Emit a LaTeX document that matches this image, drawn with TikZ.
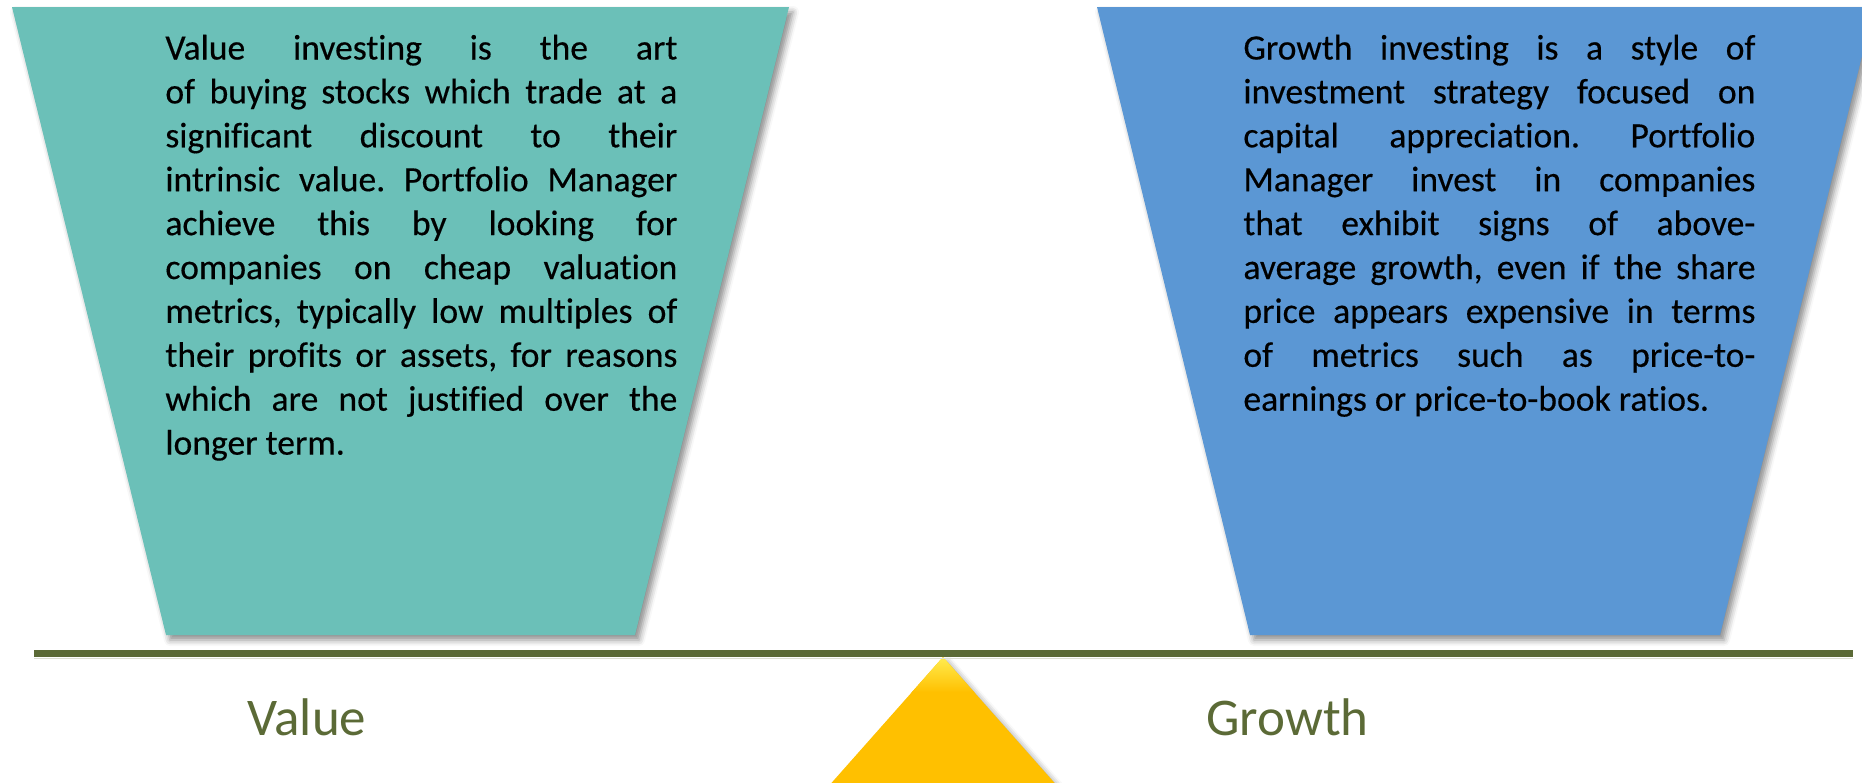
\documentclass[tikz,border=0pt]{standalone}
\usepackage{fontspec}
\setmainfont{Carlito}[Ligatures=NoCommon]
\newfontfamily\bodyfont{Carlito}[Ligatures=NoCommon,RawFeature={embolden=0.35}]
\usetikzlibrary{shadows.blur}
\definecolor{tealc}{HTML}{6BC0B8}
\definecolor{bluec}{HTML}{5B97D4}
\definecolor{olivec}{HTML}{5B6A36}
\definecolor{ytop}{HTML}{FFEC50}
\definecolor{yor}{HTML}{FFC000}
\newcommand\jl[1]{\makebox[\linewidth][s]{#1}\par}
\newcommand\lastln[1]{#1\par}
\frenchspacing
\begin{document}
\begin{tikzpicture}[x=0.5pt,y=-0.5pt,
  panel/.style={blur shadow={shadow xshift=2pt,shadow yshift=-2.5pt,shadow blur radius=3pt,shadow opacity=45}},
  body/.style={anchor=base west,inner sep=0pt,font=\bodyfont\fontsize{17.8pt}{21.95pt}\selectfont},
  lbl/.style={anchor=base west,inner sep=0pt,text=olivec,font=\fontsize{26.5pt}{32pt}\selectfont}]
\useasboundingbox (0,0) rectangle (1862,782);
\clip (0,0) rectangle (1862,782);
% panels
\fill[tealc,panel] (12,7) -- (789,7) -- (635,635) -- (166,635) -- cycle;
\fill[bluec,panel] (1097,7) -- (1874,7) -- (1720,635) -- (1250,635) -- cycle;
% fulcrum
\fill[yor,panel] (943,657) -- (1067,797) -- (819,797) -- cycle;
\begin{scope}
  \clip (943,657) -- (1067,797) -- (819,797) -- cycle;
  \shade[top color=ytop,bottom color=yor] (800,657) rectangle (1100,692);
\end{scope}
% beam
\coordinate (lL) at (34,653.5);
\coordinate (lR) at (1853,653.5);
\coordinate (sL) at (34,658.5);
\coordinate (sR) at (1853,658.5);
\draw[olivec!22,line width=0.8pt] (sL) -- (sR);
\draw[olivec,line width=3.5pt] (lL) -- (lR);
% texts
\node[body] (vt) at (165,59.5) {\begin{minipage}[t]{256pt}\parindent=0pt
\jl{Value investing is the art}
\jl{of buying stocks which trade at a}
\jl{significant discount to their}
\jl{intrinsic value. Portfolio Manager}
\jl{achieve this by looking for}
\jl{companies on cheap valuation}
\jl{metrics, typically low multiples of}
\jl{their profits or assets, for reasons}
\jl{which are not justified over the}
\lastln{longer term.}
\end{minipage}};
\node[body] (gt) at (1243,59.5) {\begin{minipage}[t]{256pt}\parindent=0pt
\jl{Growth investing is a style of}
\jl{investment strategy focused on}
\jl{capital appreciation. Portfolio}
\jl{Manager invest in companies}
\jl{that exhibit signs of above-}
\jl{average growth, even if the share}
\jl{price appears expensive in terms}
\jl{of metrics such as price-to-}
\lastln{earnings or price-to-book ratios.}
\end{minipage}};
\node[lbl] (vl) at (247,735) {Value};
\node[lbl] (gl) at (1206,735) {Growth};
\end{tikzpicture}
\end{document}
